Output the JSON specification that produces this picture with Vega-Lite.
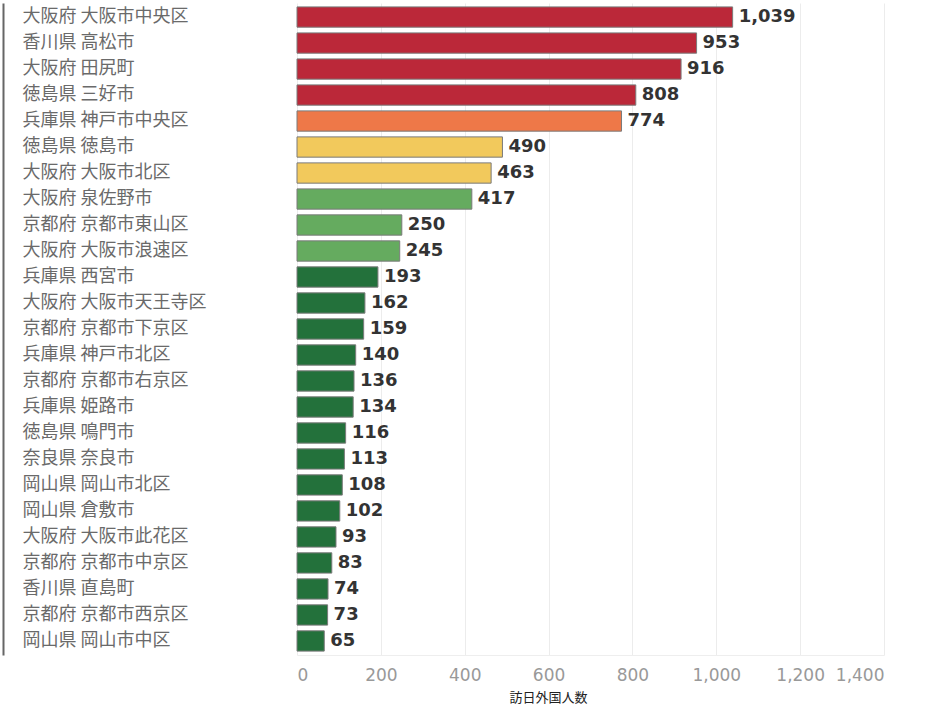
{
  "$schema": "https://vega.github.io/schema/vega-lite/v6.json",
  "autosize": "none",
  "width": 587,
  "height": 652,
  "padding": {"left": 297, "top": 3, "right": 46, "bottom": 52},
  "background": "white",
  "config": {"view": {"stroke": null}},
  "data": {"values": [
    {"area": "大阪府 大阪市中央区", "visitors": 1039, "band": "A"},
    {"area": "香川県 高松市", "visitors": 953, "band": "A"},
    {"area": "大阪府 田尻町", "visitors": 916, "band": "A"},
    {"area": "徳島県 三好市", "visitors": 808, "band": "A"},
    {"area": "兵庫県 神戸市中央区", "visitors": 774, "band": "B"},
    {"area": "徳島県 徳島市", "visitors": 490, "band": "C"},
    {"area": "大阪府 大阪市北区", "visitors": 463, "band": "C"},
    {"area": "大阪府 泉佐野市", "visitors": 417, "band": "D"},
    {"area": "京都府 京都市東山区", "visitors": 250, "band": "D"},
    {"area": "大阪府 大阪市浪速区", "visitors": 245, "band": "D"},
    {"area": "兵庫県 西宮市", "visitors": 193, "band": "E"},
    {"area": "大阪府 大阪市天王寺区", "visitors": 162, "band": "E"},
    {"area": "京都府 京都市下京区", "visitors": 159, "band": "E"},
    {"area": "兵庫県 神戸市北区", "visitors": 140, "band": "E"},
    {"area": "京都府 京都市右京区", "visitors": 136, "band": "E"},
    {"area": "兵庫県 姫路市", "visitors": 134, "band": "E"},
    {"area": "徳島県 鳴門市", "visitors": 116, "band": "E"},
    {"area": "奈良県 奈良市", "visitors": 113, "band": "E"},
    {"area": "岡山県 岡山市北区", "visitors": 108, "band": "E"},
    {"area": "岡山県 倉敷市", "visitors": 102, "band": "E"},
    {"area": "大阪府 大阪市此花区", "visitors": 93, "band": "E"},
    {"area": "京都府 京都市中京区", "visitors": 83, "band": "E"},
    {"area": "香川県 直島町", "visitors": 74, "band": "E"},
    {"area": "京都府 京都市西京区", "visitors": 73, "band": "E"},
    {"area": "岡山県 岡山市中区", "visitors": 65, "band": "E"}
  ]},
  "encoding": {
    "y": {
      "field": "area", "type": "nominal", "sort": null,
      "scale": {"paddingInner": 0.22, "paddingOuter": 0.15},
      "axis": {
        "title": null, "ticks": false, "domain": true, "domainColor": "#666", "domainWidth": 2,
        "offset": 294, "labelAlign": "left", "labelPadding": -19,
        "labelFont": "Noto Sans CJK JP", "labelFontSize": 18, "labelColor": "#6a6a6a", "labelLimit": 300
      }
    },
    "x": {
      "field": "visitors", "type": "quantitative",
      "scale": {"domain": [0, 1400], "nice": false},
      "axis": {
        "values": [0, 200, 400, 600, 800, 1000, 1200, 1400],
        "format": ",d", "title": "訪日外国人数",
        "titleFont": "Noto Sans CJK JP", "titleFontSize": 13, "titleFontWeight": "normal", "titleColor": "#222",
        "titleAnchor": "start", "titleX": 212, "titlePadding": 8,
        "labelFont": "DejaVu Sans", "labelFontSize": 17, "labelColor": "#999", "labelPadding": 12,
        "ticks": false, "domain": true, "domainColor": "#eee",
        "grid": true, "gridColor": "#ececec", "gridWidth": 1
      }
    }
  },
  "layer": [
    {
      "mark": {"type": "bar", "stroke": "#7a7a7a", "strokeWidth": 1},
      "encoding": {
        "color": {
          "field": "band", "type": "nominal", "legend": null,
          "scale": {"domain": ["A", "B", "C", "D", "E"], "range": ["#bb2839", "#ee7848", "#f2c95c", "#65ab5f", "#23713b"]}
        }
      }
    },
    {
      "mark": {"type": "text", "align": "left", "baseline": "middle", "dx": 6, "font": "DejaVu Sans", "fontSize": 18, "fontWeight": "bold", "color": "#333"},
      "encoding": {"text": {"field": "visitors", "type": "quantitative", "format": ",d"}}
    }
  ]
}
